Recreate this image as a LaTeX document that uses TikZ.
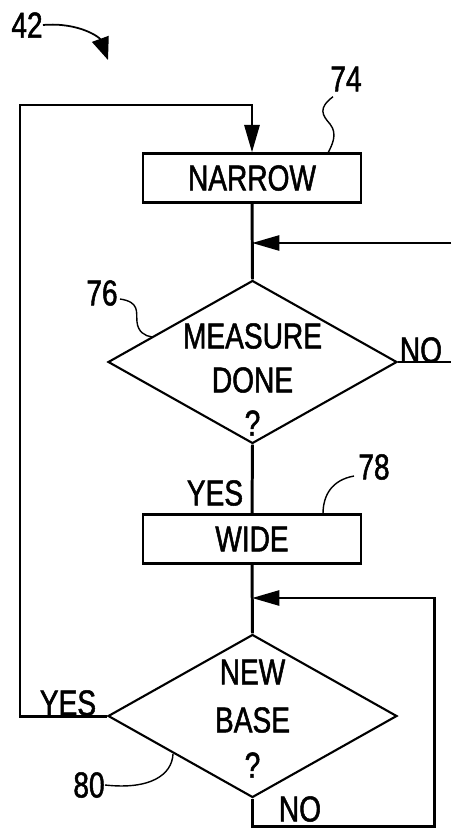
\documentclass[tikz,border=0pt]{standalone}
\usepackage{fontspec}
\setmainfont{Liberation Sans}[FakeStretch=0.78, FakeBold=1.4]
\usetikzlibrary{shapes.geometric,arrows.meta}

\tikzset{
  caja/.style={draw, line width=1.2pt, minimum width=4.36cm, minimum height=0.98cm, inner sep=0pt},
  rombo/.style={draw, diamond, line width=1.2pt, minimum width=5.78cm, minimum height=3.26cm, inner sep=0pt},
  flujo/.style={line width=1.7pt},
  punta/.style={-{Triangle[length=5.5mm,width=3mm]}},
  guia/.style={line width=0.8pt},
  texto/.style={font=\fontsize{20.5}{24}\selectfont, inner sep=0pt}
}

\begin{document}
\begin{tikzpicture}[x=0.02cm, y=-0.02cm]

\useasboundingbox (0,0) rectangle (451,831);

\node[caja, texto, inner sep=0pt] (narrow) at (252,178) {NARROW}; % 74
\node[rombo] (d1) at (252.5,362) {};                              % 76
\node[caja, texto, inner sep=0pt] (wide) at (252,539) {WIDE};     % 78
\node[rombo] (d2) at (252.5,716) {};                              % 80

\node[texto] (t1a) at ([yshift=0.52cm]d1.center) {MEASURE};
\node[texto] (t1b) at ([yshift=-0.36cm]d1.center) {DONE};
\node[texto] (t1c) at ([yshift=-1.22cm]d1.center) {?};
\node[texto] (t2a) at ([yshift=0.88cm]d2.center) {NEW};
\node[texto] (t2b) at ([yshift=-0.08cm]d2.center) {BASE};
\node[texto] (t2c) at ([yshift=-0.98cm]d2.center) {?};

\coordinate (entrada) at (451,243);
\coordinate (salida) at (451,362);
\coordinate (arriba) at (20,105);
\coordinate (abajo) at (434,826);
\coordinate (vuelta) at (434,598);

\draw[flujo] (narrow.south) -- (d1.north);
\draw[flujo, punta] (entrada) -- (narrow.south |- entrada);
\draw[flujo] (d1.east) -- (salida);
\draw[flujo] (d1.south) -- (wide.north);
\draw[flujo] (wide.south) -- (d2.north);
\draw[flujo, punta] (d2.west) -| (arriba) -| (narrow.north);      % YES
\draw[flujo, punta] (d2.south) |- (abajo) |- (wide.south |- vuelta); % NO

\node[texto] (no1) at (421,350) {NO};
\node[texto] (si1) at (215,493) {YES};
\node[texto] (si2) at (68,703) {YES};
\node[texto] (no2) at (300,809) {NO};

% referencias
\node[texto] (r42) at (27,25) {42};
\node[texto] (r74) at (346,79) {74};
\node[texto] (r76) at (102,293) {76};
\node[texto] (r78) at (374,467) {78};
\node[texto] (r80) at (89,785) {80};

\draw[guia, line width=1pt, -{Triangle[length=4.5mm,width=3.5mm]}] (r42.east) .. controls (80,22) and (100,38) .. (108,60);
\draw[guia] (r74.south) ++(-13,5) .. controls (318,108) and (322,115) .. (330,124)
  .. controls (338,134) and (332,145) .. (328,153);
\draw[guia] (r76.east) ++(2,6) .. controls (140,302) and (136,312) .. (137,322)
  .. controls (138,332) and (145,336) .. (152,337);
\draw[guia] (r78.west) ++(-4,9) .. controls (332,480) and (323,495) .. (323,514);
\draw[guia] (r80.east) .. controls (150,790) and (172,775) .. (173,754);

\end{tikzpicture}
\end{document}
